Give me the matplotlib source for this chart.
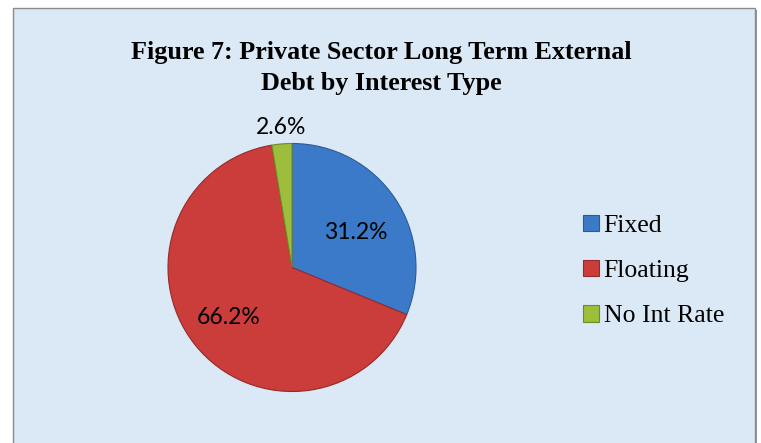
import matplotlib
matplotlib.use("Agg")
import matplotlib.pyplot as plt
from matplotlib.patches import Rectangle
import numpy as np

# Data
categories = ["Fixed", "Floating", "No Int Rate"]
shares = [31.2, 66.2, 2.6]
title = "Figure 7: Private Sector Long Term External\nDebt by Interest Type"

# Styling
colors = ["#3b7ac9", "#ca3d3b", "#9dbe3c"]
edge_colors = ["#2a5a99", "#962a28", "#6f8a25"]
label_dist = [0.59, 0.65, 1.13]
label_turn = [-5, 0, 0]

W, H = 761, 443
fig = plt.figure(figsize=(W / 100, H / 100), dpi=100)
fig.patch.set_facecolor("white")

# Chart frame with soft shadow
fx0, fx1, ftop = 13 / W, 755 / W, 1 - 8 / H
fig.patches.append(Rectangle((fx0 + 2 / W, -0.05), fx1 - fx0, ftop + 0.05 - 2 / H,
                             transform=fig.transFigure, facecolor="#9a9a9a",
                             edgecolor="none", zorder=0))
fig.patches.append(Rectangle((fx0, -0.05), fx1 - fx0, ftop + 0.05,
                             transform=fig.transFigure, facecolor="#dbe8f5",
                             edgecolor="#8a8a8a", linewidth=1.0, zorder=1))

# Pie axes
cx, cy, r = 292, 267.5, 124
ax = fig.add_axes([(cx - r) / W, (H - cy - r) / H, 2 * r / W, 2 * r / H])
ax.set_zorder(2)
ax.patch.set_alpha(0)
wedges, _, autotexts = ax.pie(
    shares, colors=colors, startangle=90, counterclock=False,
    autopct="%1.1f%%", pctdistance=0.6,
    wedgeprops=dict(linewidth=0.8),
    textprops=dict(fontfamily="Lato", fontsize=16.5, color="black"),
)
for w, t, ec, d, turn in zip(wedges, autotexts, edge_colors, label_dist, label_turn):
    w.set_edgecolor(ec)
    ang = np.deg2rad((w.theta1 + w.theta2) / 2 + turn)
    t.set_position((d * np.cos(ang), d * np.sin(ang)))
ax.set_xlim(-1, 1)
ax.set_ylim(-1, 1)
ax.set_aspect("equal")
ax.axis("off")

# Title
fig.text(381 / W, 1 - 68 / H, title, ha="center", va="center",
         fontfamily="Liberation Serif", fontweight="bold", fontsize=18.8,
         linespacing=1.4, zorder=3)

# Legend
leg = fig.legend(wedges, categories, loc="center left",
                 bbox_to_anchor=(560 / W, 1 - 271 / H), frameon=False,
                 prop=dict(family="Liberation Serif", size=18.5),
                 handlelength=0.6, handleheight=0.6, handletextpad=0.2,
                 labelspacing=0.9)

fig.savefig("out.png", dpi=100)
